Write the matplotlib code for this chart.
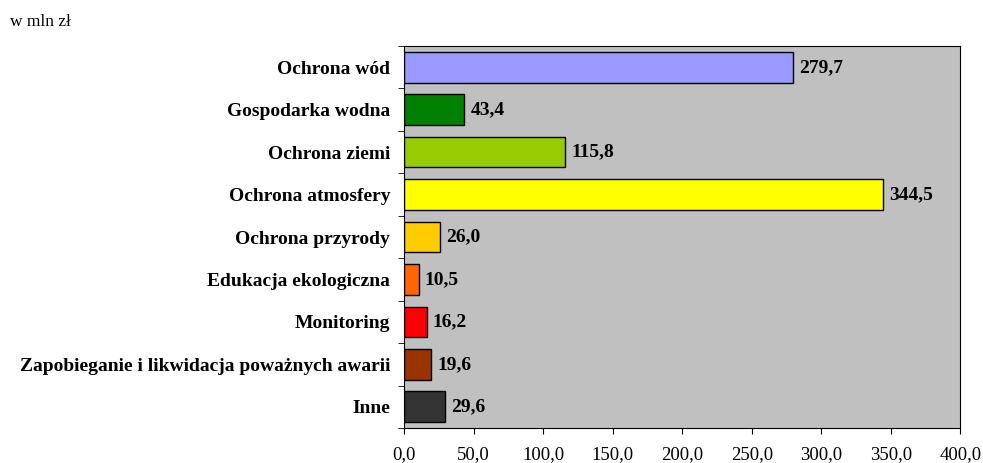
import matplotlib.pyplot as plt
import numpy as np
from matplotlib.ticker import FixedLocator

categories = ['Ochrona wód', 'Gospodarka wodna', 'Ochrona ziemi', 'Ochrona atmosfery',
              'Ochrona przyrody', 'Edukacja ekologiczna', 'Monitoring',
              'Zapobieganie i likwidacja poważnych awarii', 'Inne']
values = [279.7, 43.4, 115.8, 344.5, 26.0, 10.5, 16.2, 19.6, 29.6]
colors = ['#9999FF', '#008000', '#99CC00', '#FFFF00', '#FFCC00',
          '#FF6600', '#FF0000', '#993300', '#333333']
xticks = [0, 50, 100, 150, 200, 250, 300, 350, 400]

plt.rcParams['font.family'] = ['Liberation Serif', 'DejaVu Serif']

fig = plt.figure(figsize=(9.83, 4.63), dpi=100)
ax = fig.add_axes([0.411, 0.0756, 0.566, 0.825])
ax.set_facecolor('#C0C0C0')

y = np.arange(len(categories))
ax.barh(y, values, height=0.72, color=colors, edgecolor='black', linewidth=1)

for yi, v in zip(y, values):
    ax.annotate(f'{v:.1f}'.replace('.', ','), (v, yi), xytext=(4.5, 0),
                textcoords='offset points', va='center', ha='left',
                fontsize=14, fontweight='bold')

ax.set_ylim(len(categories) - 0.5, -0.5)
ax.set_xlim(0, 400)
ax.set_yticks(y)
ax.set_yticklabels(categories, fontsize=14, fontweight='bold')
ax.tick_params(axis='y', which='major', length=0, pad=10)
ax.yaxis.set_minor_locator(FixedLocator(np.arange(-0.5, len(categories), 1)))
ax.tick_params(axis='y', which='minor', length=4, direction='out')

ax.set_xticks(xticks)
ax.set_xticklabels([f'{t:.1f}'.replace('.', ',') for t in xticks], fontsize=13.5)
ax.tick_params(axis='x', length=4, direction='out', pad=9)

for s in ax.spines.values():
    s.set_linewidth(0.8)
    s.set_color('black')

fig.text(0.010, 0.952, 'w mln zł', fontsize=12.5, ha='left', va='center')

fig.savefig('out.png', dpi=100)
